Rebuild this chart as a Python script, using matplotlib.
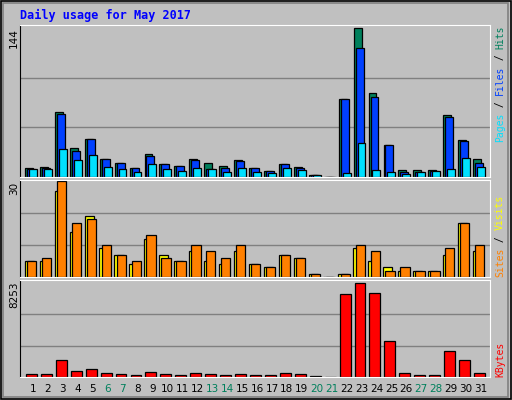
import matplotlib
matplotlib.use("Agg")
import matplotlib.pyplot as plt
import numpy as np

days = list(range(1, 32))
hits  = [9,10,63,28,37,17,14,9,22,13,11,17,14,11,16,9,6,13,10,2,0,75,144,81,31,7,7,7,60,36,17]
files = [8,9,61,25,37,17,14,9,20,13,11,16,8,9,15,9,6,13,9,2,0,75,125,77,31,5,5,6,58,35,14]
pages = [8,8,27,16,21,10,8,5,13,8,6,9,8,5,9,5,4,9,7,2,0,4,33,7,5,3,5,6,8,18,10]
visits = [5,5,27,14,19,9,7,4,12,7,5,8,5,4,8,4,3,7,6,1,0,1,9,5,3,2,2,2,7,17,8]
sites  = [5,6,30,17,18,10,7,5,13,6,5,10,8,6,10,4,3,7,6,1,0,1,10,8,2,3,2,2,9,17,10]
kbytes = [272,272,1451,544,726,363,272,181,453,272,181,363,272,181,272,181,181,363,272,60,0,
          7255,8253,7346,3174,363,181,181,2267,1451,363]
weekends = [6,7,13,14,20,21,27,28]
title = "Daily usage for May 2017"

W, H = 512, 400
fig = plt.figure(figsize=(5.12, 4.0), dpi=100, facecolor="#C0C0C0")
fig.patches.append(plt.Rectangle((0.002, 0.002), 0.996, 0.996, transform=fig.transFigure,
                                 fill=False, edgecolor="black", lw=1.2))
fig.patches.append(plt.Rectangle((0.006, 0.008), 0.986, 0.984, transform=fig.transFigure,
                                 fill=False, edgecolor="#808080", lw=1.2))

def ax_at(y0, y1):
    ax = fig.add_axes([20/W, 1-y1/H, 470/W, (y1-y0)/H])
    ax.set_facecolor("#C0C0C0")
    for s in ["top", "right", "bottom"]:
        ax.spines[s].set_color("white")
    ax.spines["left"].set_color("black")
    ax.set_xlim(1-0.87, 31.6)
    ax.set_xticks([]); ax.set_yticks([])
    return ax

d = np.array(days)
ek = dict(edgecolor="black", linewidth=0.9, align="edge")

ax1 = ax_at(25, 177)
m1 = max(hits)
for f in (1/3, 2/3):
    ax1.axhline(m1*f, color="#808080", lw=1, zorder=0)
ax1.bar(d-0.53, hits, 0.53, color="#00805C", **ek)
ax1.bar(d-0.40, files, 0.53, color="#0040FF", **ek)
ax1.bar(d-0.27, pages, 0.53, color="#00E0FF", **ek)
ax1.set_ylim(0, m1*1.02)

ax2 = ax_at(180, 277)
m2 = max(sites)
for f in (1/3, 2/3):
    ax2.axhline(m2*f, color="#808080", lw=1, zorder=0)
ax2.bar(d-0.55, visits, 0.62, color="#FFFF00", **ek)
ax2.bar(d-0.40, sites, 0.62, color="#FF8000", **ek)
ax2.set_ylim(0, m2*1.01)

ax3 = ax_at(280, 377)
m3 = max(kbytes)
for f in (1/3, 2/3):
    ax3.axhline(m3*f, color="#808080", lw=1, zorder=0)
ax3.bar(d-0.47, kbytes, 0.73, color="#FF0000", **ek)
ax3.set_ylim(0, m3*1.03)
for x in days:
    ax3.text(x, -0.12, str(x), transform=ax3.get_xaxis_transform(), ha="center", va="center",
             fontsize=7.5, color="#00805C" if x in weekends else "black")

def px(x, y):
    return x/W, 1-y/H

fig.text(*px(20, 15), title, color="#0000FF", fontsize=8.5, fontweight="bold",
         family="DejaVu Sans Mono", va="center", ha="left")
for lab, ytop in [("144", 28), ("30", 182), ("8253", 282)]:
    fig.text(*px(14, ytop), lab, rotation=90, fontsize=7.5, va="top", ha="center")

STEP = 0.6 * 7 * 100 / 72

def vlabel(parts, ybottom):
    n = 0
    for txt, col in parts:
        fig.text(*px(500, ybottom - n*STEP), txt, rotation=90, color=col, fontsize=7,
                 family="DejaVu Sans Mono", va="bottom", ha="center")
        n += len(txt)

vlabel([("Pages", "#00E0FF"), (" / ", "black"), ("Files", "#0040FF"),
        (" / ", "black"), ("Hits", "#00805C")], 142)
vlabel([("Sites", "#FF8000"), (" / ", "black"), ("Visits", "#FFFF00")], 277)
vlabel([("KBytes", "#FF0000")], 377)

fig.savefig("out.png", dpi=100, facecolor=fig.get_facecolor())
